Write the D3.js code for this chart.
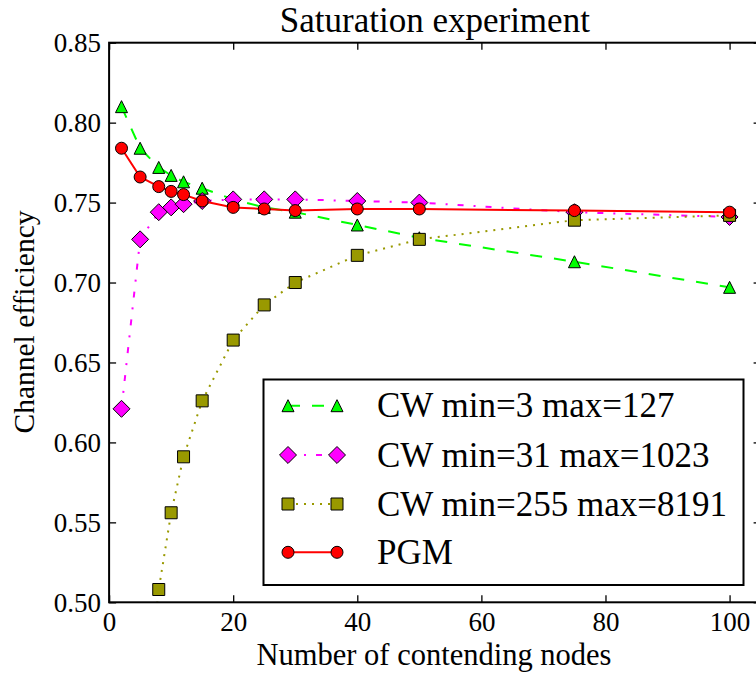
<!DOCTYPE html>
<html>
<head>
<meta charset="utf-8">
<script src="https://cdn.jsdelivr.net/npm/d3@7"></script>
<style>
  html, body { margin: 0; padding: 0; background: #fff; }
</style>
</head>
<body>
<svg id="chart" width="756" height="674"></svg>
<script>
// ---------- data ----------
const nodes = [2, 5, 8, 10, 12, 15, 20, 25, 30, 40, 50, 75, 100];
const cw3 = [0.810, 0.784, 0.772, 0.767, 0.763, 0.759, 0.752, 0.747, 0.744, 0.736, 0.728, 0.713, 0.697];
const cw31 = [0.621, 0.727, 0.744, 0.747, 0.749, 0.751, 0.752, 0.752, 0.752, 0.751, 0.750, 0.744, 0.741];
const cw255 = [0.25, 0.40, 0.508, 0.556, 0.591, 0.626, 0.664, 0.686, 0.700, 0.717, 0.727, 0.739, 0.742];
const pgm = [0.784, 0.766, 0.760, 0.757, 0.755, 0.751, 0.747, 0.746, 0.745, 0.746, 0.746, 0.745, 0.744];
const seriesNames = ["CW min=3 max=127", "CW min=31 max=1023", "CW min=255 max=8191", "PGM"];
const xTicks = [0, 20, 40, 60, 80, 100];
const yTicks = [0.50, 0.55, 0.60, 0.65, 0.70, 0.75, 0.80, 0.85];
const titleText = "Saturation experiment";
const xLabel = "Number of contending nodes";
const yLabel = "Channel efficiency";

// ---------- styles ----------
const styles = [
  { color: "#00ff00", dash: "12,12", marker: "triangle" },
  { color: "#ff00ff", dash: "6,10,2,10", marker: "diamond" },
  { color: "#999900", dash: "2,6", marker: "square" },
  { color: "#ff0000", dash: null, marker: "circle" }
];
const seriesValues = [cw3, cw31, cw255, pgm];
const FONT = "'Liberation Serif', monospace";

const svg = d3.select("#chart");
const L = 109.1, R = 760.6, T = 42.7, B = 602.3;
const x = d3.scaleLinear().domain([0, 105]).range([L, R]);
const y = d3.scaleLinear().domain([0.5, 0.85]).range([B, T]);

const ms = 12;
function markerPath(type) {
  const h = ms / 2;
  if (type === "triangle") return `M0,${-h}L${h},${h}L${-h},${h}Z`;
  if (type === "square") return `M${-h},${-h}H${h}V${h}H${-h}Z`;
  if (type === "diamond") { const d = h * Math.SQRT2; return `M0,${-d}L${d},0L0,${d}L${-d},0Z`; }
  return d3.arc()({ innerRadius: 0, outerRadius: h, startAngle: 0, endAngle: 2 * Math.PI });
}

svg.append("defs").append("clipPath").attr("id", "plotclip")
  .append("rect").attr("x", L).attr("y", T).attr("width", R - L).attr("height", B - T);

// axes (inward ticks on all four sides)
const fmt = d3.format(".2f");
svg.append("g").attr("transform", `translate(0,${B})`)
  .call(d3.axisBottom(x).tickValues(xTicks).tickFormat(d3.format("d")).tickSize(-7).tickSizeOuter(0).tickPadding(10))
  .attr("font-family", FONT).attr("font-size", 27)
  .call(g => g.select(".domain").remove())
  .call(g => g.selectAll("text").attr("font-family", FONT).attr("font-size", 27).attr("fill", "#000"))
  .call(g => g.selectAll("line").attr("stroke-width", 1.3));
svg.append("g").attr("transform", `translate(0,${T})`)
  .call(d3.axisTop(x).tickValues(xTicks).tickFormat("").tickSize(-7).tickSizeOuter(0))
  .call(g => g.select(".domain").remove())
  .call(g => g.selectAll("line").attr("stroke-width", 1.3));
svg.append("g").attr("transform", `translate(${L},0)`)
  .call(d3.axisLeft(y).tickValues(yTicks).tickFormat(fmt).tickSize(-7).tickSizeOuter(0).tickPadding(8))
  .attr("font-family", FONT).attr("font-size", 27)
  .call(g => g.select(".domain").remove())
  .call(g => g.selectAll("text").attr("font-family", FONT).attr("font-size", 27).attr("fill", "#000").attr("dy", "0.34em"))
  .call(g => g.selectAll("line").attr("stroke-width", 1.3));
svg.append("g").attr("transform", `translate(${R},0)`)
  .call(d3.axisRight(y).tickValues(yTicks).tickFormat("").tickSize(-7).tickSizeOuter(0))
  .call(g => g.select(".domain").remove())
  .call(g => g.selectAll("line").attr("stroke-width", 1.3));

// series
const plot = svg.append("g").attr("clip-path", "url(#plotclip)");
const line = d3.line().x(d => x(d[0])).y(d => y(d[1]));
seriesValues.forEach((vals, i) => {
  const st = styles[i];
  const pts = nodes.map((n, k) => [n, vals[k]]);
  const g = plot.append("g");
  g.append("path").attr("d", line(pts)).attr("fill", "none")
    .attr("stroke", st.color).attr("stroke-width", 2)
    .attr("stroke-dasharray", st.dash);
  g.selectAll("path.m").data(pts).join("path").attr("class", "m")
    .attr("d", markerPath(st.marker))
    .attr("transform", d => `translate(${x(d[0])},${y(d[1])})`)
    .attr("fill", st.color).attr("stroke", "#000").attr("stroke-width", 1);
});

// frame
svg.append("rect").attr("x", L).attr("y", T).attr("width", R - L).attr("height", B - T)
  .attr("fill", "none").attr("stroke", "#000").attr("stroke-width", 2);

// title & axis labels
svg.append("text").attr("x", (L + R) / 2).attr("y", 32).attr("text-anchor", "middle")
  .attr("font-family", FONT).attr("font-size", 35).text(titleText);
svg.append("text").attr("x", 434).attr("y", 665).attr("text-anchor", "middle")
  .attr("font-family", FONT).attr("font-size", 30.5).text(xLabel);
svg.append("text").attr("transform", "translate(34,322) rotate(-90)").attr("text-anchor", "middle")
  .attr("font-family", FONT).attr("font-size", 29.5).text(yLabel);

// legend
const lg = svg.append("g");
lg.append("rect").attr("x", 263.5).attr("y", 379.5).attr("width", 480).attr("height", 205.5)
  .attr("fill", "#fff").attr("stroke", "#000").attr("stroke-width", 2);
const rowY = [405.7, 455, 504, 552.3];
seriesNames.forEach((name, i) => {
  const st = styles[i];
  const ry = rowY[i];
  lg.append("path").attr("d", `M288,${ry}H337`).attr("stroke", st.color)
    .attr("stroke-width", 2).attr("stroke-dasharray", st.dash).attr("fill", "none");
  [288, 337].forEach(mx => {
    lg.append("path").attr("d", markerPath(st.marker)).attr("transform", `translate(${mx},${ry})`)
      .attr("fill", st.color).attr("stroke", "#000").attr("stroke-width", 1);
  });
  lg.append("text").attr("x", 377).attr("y", ry + 11.5).attr("font-family", FONT).attr("font-size", 35)
    .text(name);
});
</script>
</body>
</html>
